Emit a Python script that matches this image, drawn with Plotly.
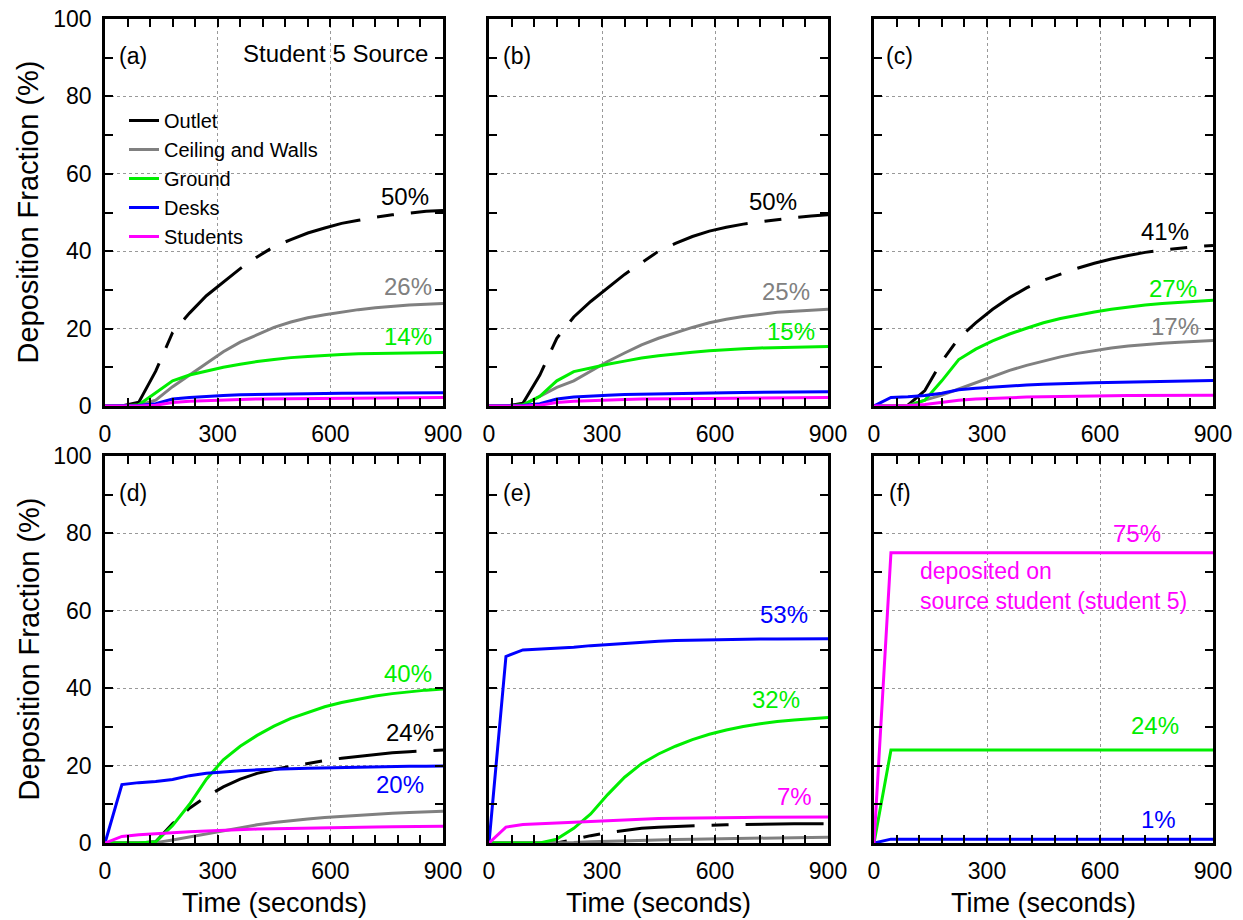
import plotly.graph_objects as go

# ---------------- data ----------------
time_s = [0, 45, 90, 135, 180, 225, 270, 315, 360, 405, 450, 495, 540, 585, 630, 675, 720, 765, 810, 855, 900]

series_names = ["Outlet", "Ceiling and Walls", "Ground", "Desks", "Students"]

# panel (a)
a_outlet   = [0, 0, 1, 9, 19, 24, 28.5, 32, 35.5, 38.5, 41.2, 43, 44.7, 46, 47.2, 48, 48.8, 49.4, 49.9, 50.3, 50.5]
a_ceiling  = [0, 0, 0.2, 1.5, 5, 8, 11, 14, 16.5, 18.5, 20.3, 21.7, 22.8, 23.6, 24.3, 24.9, 25.4, 25.8, 26.1, 26.3, 26.5]
a_ground   = [0, 0, 0.3, 3.5, 6.5, 8, 9, 10, 10.8, 11.5, 12, 12.5, 12.8, 13.1, 13.3, 13.5, 13.6, 13.7, 13.7, 13.8, 13.8]
a_desks    = [0, 0, 0.1, 0.6, 1.8, 2.2, 2.5, 2.7, 2.9, 3.0, 3.1, 3.15, 3.2, 3.25, 3.3, 3.3, 3.35, 3.35, 3.4, 3.4, 3.4]
a_students = [0, 0, 0, 0.2, 0.9, 1.2, 1.4, 1.6, 1.7, 1.8, 1.85, 1.9, 1.95, 2.0, 2.05, 2.1, 2.1, 2.15, 2.15, 2.2, 2.2]

# panel (b)
b_outlet   = [0, 0, 0.7, 8, 17.5, 23, 27, 30.5, 34, 37, 40, 42, 43.8, 45.2, 46.2, 47, 47.6, 48.2, 48.7, 49.1, 49.4]
b_ceiling  = [0, 0, 0.2, 2.5, 4.8, 6.5, 9, 11.5, 13.7, 15.8, 17.5, 19, 20.3, 21.5, 22.4, 23.1, 23.7, 24.2, 24.5, 24.8, 25]
b_ground   = [0, 0, 0.3, 2.5, 6.5, 8.9, 9.8, 10.8, 11.6, 12.4, 13, 13.5, 13.9, 14.3, 14.6, 14.8, 15, 15.1, 15.2, 15.3, 15.4]
b_desks    = [0, 0, 0.1, 0.6, 1.8, 2.3, 2.6, 2.8, 3.0, 3.1, 3.2, 3.3, 3.35, 3.4, 3.45, 3.5, 3.55, 3.6, 3.65, 3.7, 3.7]
b_students = [0, 0, 0, 0.2, 0.9, 1.2, 1.4, 1.6, 1.7, 1.8, 1.85, 1.9, 1.95, 2.0, 2.05, 2.1, 2.1, 2.15, 2.15, 2.2, 2.2]

# panel (c)
c_outlet   = [0, 0, 0.2, 4, 11.5, 17.5, 21.5, 25, 28, 30.5, 32.5, 34.1, 35.6, 36.9, 38, 38.9, 39.7, 40.3, 40.8, 41.2, 41.5]
c_ceiling  = [0, 0, 0.1, 1.5, 2.8, 4.4, 6, 7.6, 9.2, 10.5, 11.7, 12.7, 13.6, 14.3, 15, 15.5, 15.9, 16.2, 16.5, 16.7, 16.9]
c_ground   = [0, 0, 0, 1.5, 6.5, 12, 14.7, 16.8, 18.6, 20.1, 21.5, 22.6, 23.5, 24.3, 25, 25.6, 26.1, 26.5, 26.8, 27.1, 27.3]
c_desks    = [0, 2.2, 2.4, 2.7, 3.3, 4.2, 4.6, 4.9, 5.2, 5.4, 5.6, 5.8, 5.9, 6.0, 6.1, 6.2, 6.3, 6.4, 6.5, 6.6, 6.6]
c_students = [0, 0, 0.1, 0.4, 1.0, 1.5, 1.8, 2.0, 2.15, 2.3, 2.4, 2.5, 2.55, 2.6, 2.65, 2.7, 2.7, 2.75, 2.75, 2.8, 2.8]

# panel (d)
d_outlet   = [0, 0, 0, 0.3, 5, 9, 12, 14.5, 16.5, 18, 19, 19.8, 20.6, 21.3, 21.9, 22.4, 22.9, 23.3, 23.6, 23.8, 24]
d_ceiling  = [0, 0, 0, 0.1, 0.8, 1.6, 2.4, 3.1, 3.9, 4.7, 5.3, 5.8, 6.2, 6.6, 6.9, 7.2, 7.5, 7.7, 7.9, 8.1, 8.2]
d_ground   = [0, 0, 0, 0.3, 4.5, 10, 16.5, 21.5, 25, 27.8, 30.2, 32.2, 33.8, 35.2, 36.3, 37.2, 38, 38.6, 39.1, 39.5, 39.8]
d_desks    = [0, 15.1, 15.6, 15.9, 16.4, 17.4, 18, 18.4, 18.7, 18.9, 19.1, 19.2, 19.3, 19.4, 19.5, 19.6, 19.7, 19.7, 19.8, 19.8, 19.9]
d_students = [0, 1.7, 2.1, 2.4, 2.6, 2.9, 3.1, 3.3, 3.5, 3.6, 3.7, 3.8, 3.9, 4.0, 4.05, 4.1, 4.15, 4.2, 4.25, 4.3, 4.3]

# panel (e)
e_outlet   = [0, 0, 0, 0, 0, 0.9, 1.9, 2.7, 3.3, 3.8, 4.1, 4.3, 4.5, 4.6, 4.7, 4.8, 4.85, 4.9, 4.95, 5, 5]
e_ceiling  = [0, 0, 0, 0, 0, 0.1, 0.3, 0.45, 0.6, 0.7, 0.8, 0.9, 1.0, 1.05, 1.1, 1.2, 1.25, 1.3, 1.4, 1.45, 1.5]
e_ground   = [0, 0, 0, 0, 1, 3.8, 7.5, 12.5, 17, 20.5, 23, 25, 26.7, 28.1, 29.2, 30.1, 30.8, 31.4, 31.8, 32.1, 32.4]
e_desks    = [0, 48.2, 49.9, 50.1, 50.3, 50.6, 51, 51.3, 51.6, 51.9, 52.1, 52.3, 52.4, 52.5, 52.6, 52.6, 52.7, 52.7, 52.7, 52.8, 52.8]
e_students = [0, 4.1, 4.8, 5.0, 5.2, 5.4, 5.6, 5.8, 6.0, 6.2, 6.3, 6.4, 6.5, 6.55, 6.6, 6.6, 6.65, 6.7, 6.7, 6.7, 6.7]

# panel (f)
f_ground   = [0, 24, 24, 24, 24, 24, 24, 24, 24, 24, 24, 24, 24, 24, 24, 24, 24, 24, 24, 24, 24]
f_desks    = [0, 1, 1, 1, 1, 1, 1, 1, 1, 1, 1, 1, 1, 1, 1, 1, 1, 1, 1, 1, 1]
f_students = [0, 75, 75, 75, 75, 75, 75, 75, 75, 75, 75, 75, 75, 75, 75, 75, 75, 75, 75, 75, 75]

panels = [
    {"Outlet": a_outlet, "Ceiling and Walls": a_ceiling, "Ground": a_ground, "Desks": a_desks, "Students": a_students},
    {"Outlet": b_outlet, "Ceiling and Walls": b_ceiling, "Ground": b_ground, "Desks": b_desks, "Students": b_students},
    {"Outlet": c_outlet, "Ceiling and Walls": c_ceiling, "Ground": c_ground, "Desks": c_desks, "Students": c_students},
    {"Outlet": d_outlet, "Ceiling and Walls": d_ceiling, "Ground": d_ground, "Desks": d_desks, "Students": d_students},
    {"Outlet": e_outlet, "Ceiling and Walls": e_ceiling, "Ground": e_ground, "Desks": e_desks, "Students": e_students},
    {"Ground": f_ground, "Desks": f_desks, "Students": f_students},
]
panel_tags = ["(a)", "(b)", "(c)", "(d)", "(e)", "(f)"]

# final-value labels: (panel index, text, series, x, y)
value_labels = [
    (0, "50%", "Outlet", 798, 54.1), (0, "26%", "Ceiling and Walls", 807, 31), (0, "14%", "Ground", 807, 17.9),
    (1, "50%", "Outlet", 754, 52.8), (1, "25%", "Ceiling and Walls", 789, 29.5), (1, "15%", "Ground", 803, 19.2),
    (2, "41%", "Outlet", 773, 45), (2, "27%", "Ground", 794, 30.4), (2, "17%", "Ceiling and Walls", 800, 20.5),
    (3, "40%", "Ground", 807, 43.9), (3, "24%", "Outlet", 813, 28.6), (3, "20%", "Desks", 785, 15.1),
    (4, "53%", "Desks", 782, 59), (4, "32%", "Ground", 761, 37.2), (4, "7%", "Students", 812, 12),
    (5, "75%", "Students", 698, 80), (5, "24%", "Ground", 747, 30.3), (5, "1%", "Desks", 756, 6),
]

colors = {"Outlet": "#000000", "Ceiling and Walls": "#808080", "Ground": "#00EE00",
          "Desks": "#0000FF", "Students": "#FF00FF"}

FONT = "Liberation Sans, Arial, sans-serif"
W, H = 1243, 920

# panel pixel boxes (left, right) and (top, bottom)
col_px = [(105, 443), (489, 828), (874, 1213)]
row_px = [(19, 406), (456, 843)]

fig = go.Figure()

for i, pdata in enumerate(panels):
    ax = "" if i == 0 else str(i + 1)
    for name in series_names:
        if name not in pdata:
            continue
        line = dict(color=colors[name], width=3)
        if name == "Outlet":
            line["dash"] = "78px,17px,17px,17px"
        fig.add_trace(go.Scatter(
            x=time_s, y=pdata[name], mode="lines", name=name, line=line,
            xaxis="x" + ax, yaxis="y" + ax, showlegend=(i == 0), hoverinfo="skip"))

layout = {}
for i in range(6):
    r, c = divmod(i, 3)
    ax = "" if i == 0 else str(i + 1)
    l, rr = col_px[c]
    t, b = row_px[r]
    common = dict(showline=True, linecolor="black", linewidth=2.5, mirror="allticks",
                  ticks="inside", ticklen=8, tickwidth=2, tickcolor="black",
                  showgrid=True, gridcolor="#999999", griddash="dot", gridwidth=1,
                  zeroline=False, automargin=False,
                  tickfont=dict(family=FONT, size=23, color="black"),
                  fixedrange=True)
    layout["xaxis" + ax] = dict(common, domain=[l / W, rr / W], anchor="y" + ax,
                                range=[0, 900], tick0=0, dtick=300, ticklabelstandoff=6,
                                minor=dict(dtick=60, tick0=0, ticks="inside", ticklen=8,
                                           tickwidth=2, tickcolor="black", showgrid=False))
    layout["yaxis" + ax] = dict(common, domain=[1 - b / H, 1 - t / H], anchor="x" + ax,
                                range=[0, 100], tick0=0, dtick=20, showticklabels=(c == 0),
                                ticklabelstandoff=6,
                                minor=dict(dtick=10, tick0=0, ticks="inside", ticklen=8,
                                           tickwidth=2, tickcolor="black", showgrid=False))

annotations = []
for i, tag in enumerate(panel_tags):
    ax = "" if i == 0 else str(i + 1)
    annotations.append(dict(text=tag, x=75 if i not in (2, 5) else 69, y=90.5,
                            xref="x" + ax, yref="y" + ax, showarrow=False,
                            xanchor="center", yanchor="middle",
                            font=dict(family=FONT, size=23, color="black")))
annotations.append(dict(text="Student 5 Source", x=614, y=91, xref="x", yref="y",
                        showarrow=False, xanchor="center", yanchor="middle",
                        font=dict(family=FONT, size=24, color="black")))
for (i, txt, ser, x, y) in value_labels:
    ax = "" if i == 0 else str(i + 1)
    annotations.append(dict(text=txt, x=x, y=y, xref="x" + ax, yref="y" + ax, showarrow=False,
                            xanchor="center", yanchor="middle",
                            font=dict(family=FONT, size=24, color=colors[ser])))
annotations.append(dict(text="deposited on<br>source student (student 5)", x=118, y=66.3,
                        xref="x6", yref="y6", xanchor="left", yanchor="middle", align="left",
                        showarrow=False,
                        font=dict(family=FONT, size=23, color=colors["Students"])))
# axis titles
for c in range(3):
    l, rr = col_px[c]
    annotations.append(dict(text="Time (seconds)", x=(l + rr) / 2 / W, y=1 - 903 / H,
                            xref="paper", yref="paper", showarrow=False,
                            xanchor="center", yanchor="middle",
                            font=dict(family=FONT, size=27, color="black")))
for r in range(2):
    t, b = row_px[r]
    annotations.append(dict(text="Deposition Fraction (%)", x=28 / W, y=1 - (t + b) / 2 / H,
                            xref="paper", yref="paper", showarrow=False, textangle=-90,
                            xanchor="center", yanchor="middle",
                            font=dict(family=FONT, size=29, color="black")))

fig.update_layout(
    template="none",
    width=W, height=H, margin=dict(l=0, r=0, t=0, b=0, pad=0), autosize=False,
    paper_bgcolor="white", plot_bgcolor="white",
    annotations=annotations,
    legend=dict(x=124 / W, y=1 - 101 / H, xanchor="left", yanchor="top",
                bgcolor="rgba(0,0,0,0)", font=dict(family=FONT, size=20, color="black"),
                itemwidth=30, tracegroupgap=0),
    **layout)

fig.write_html("out.html", config={"displayModeBar": False},
               post_script="document.body.style.margin='0';")
